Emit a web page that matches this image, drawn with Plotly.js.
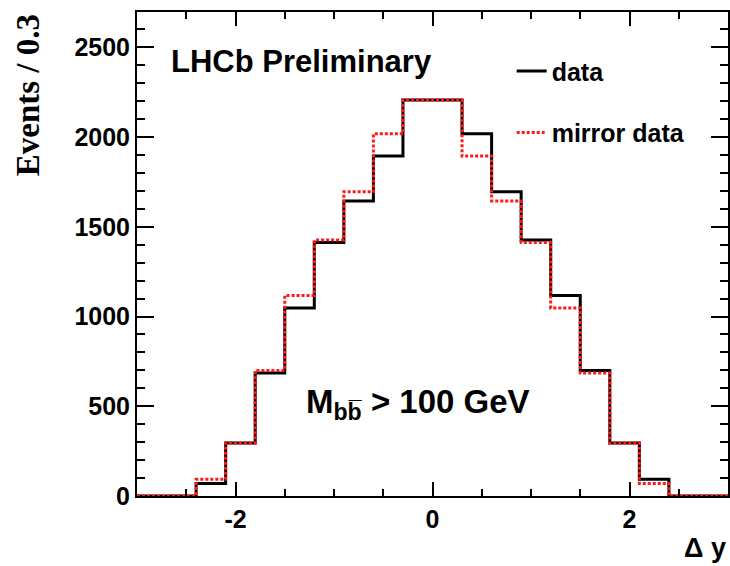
<!DOCTYPE html>
<html>
<head>
<meta charset="utf-8">
<script src="https://cdn.plot.ly/plotly-3.0.1.min.js"></script>
<style>html,body{margin:0;padding:0;background:#fff;}#chart{width:730px;height:566px;}</style>
</head>
<body>
<div id="chart"></div>
<script>
// Bin edges of the Δy histogram (bin width 0.3)
const binEdges = [-3.0, -2.7, -2.4, -2.1, -1.8, -1.5, -1.2, -0.9, -0.6, -0.3, 0.0,
                  0.3, 0.6, 0.9, 1.2, 1.5, 1.8, 2.1, 2.4, 2.7, 3.0];
// Events per bin, data
const dataCounts = [0, 0, 70, 296, 685, 1048, 1413, 1644, 1894, 2206,
                    2206, 2018, 1696, 1426, 1117, 700, 296, 93, 0, 0];
// Events per bin, mirrored data
const mirrorCounts = [0, 0, 93, 296, 700, 1117, 1426, 1696, 2018, 2206,
                      2206, 1894, 1644, 1413, 1048, 685, 296, 70, 0, 0];
const xTickVals = [-2, 0, 2];
const yTickVals = [0, 500, 1000, 1500, 2000, 2500];

function stepY(counts) { return counts.concat([counts[counts.length - 1]]); }

const traces = [
  {
    type: 'scatter', mode: 'lines', name: 'data', legendgroup: 'a',
    x: binEdges, y: stepY(dataCounts),
    line: {shape: 'hv', color: '#000000', width: 3}
  },
  {
    type: 'scatter', mode: 'lines', name: 'mirror data', legendgroup: 'b',
    x: binEdges, y: stepY(mirrorCounts),
    line: {shape: 'hv', color: '#ff1a1a', width: 3, dash: '3px,2px'}
  }
];

const tickFont = {family: 'Liberation Sans, Arial, sans-serif', size: 25, color: '#000', weight: 'bold'};

const layout = {
  width: 730, height: 566,
  margin: {l: 137, r: 2, t: 12, b: 70},
  paper_bgcolor: '#fff', plot_bgcolor: '#fff',
  showlegend: true,
  legend: {
    x: 0.634, y: 0.925, xanchor: 'left', yanchor: 'top',
    bgcolor: 'rgba(0,0,0,0)', borderwidth: 0,
    traceorder: 'grouped', tracegroupgap: 26,
    font: {family: 'Liberation Sans, Arial, sans-serif', size: 25, color: '#000', weight: 'bold'}
  },
  xaxis: {
    range: [-3, 3], tickvals: xTickVals, ticktext: xTickVals.map(String),
    ticks: 'inside', ticklen: 14, tickwidth: 2, tickcolor: '#000',
    minor: {dtick: 0.5, ticks: 'inside', ticklen: 7, tickwidth: 2, tickcolor: '#000'},
    showline: true, linecolor: '#000', linewidth: 2, mirror: 'allticks',
    showgrid: false, zeroline: false, tickfont: tickFont
  },
  yaxis: {
    range: [0, 2697], tickvals: yTickVals, ticktext: yTickVals.map(String),
    ticks: 'inside', ticklen: 17, tickwidth: 2, tickcolor: '#000',
    minor: {dtick: 100, ticks: 'inside', ticklen: 8, tickwidth: 2, tickcolor: '#000'},
    showline: true, linecolor: '#000', linewidth: 2, mirror: 'allticks',
    showgrid: false, zeroline: false, tickfont: tickFont
  },
  annotations: [
    {
      xref: 'paper', yref: 'paper', x: 0.054, y: 0.898, xanchor: 'left', yanchor: 'middle',
      text: 'LHCb Preliminary', showarrow: false,
      font: {family: 'Liberation Sans, Arial, sans-serif', size: 31, color: '#000', weight: 'bold'}
    },
    {
      xref: 'paper', yref: 'paper', x: 0.475, y: 0.19, xanchor: 'center', yanchor: 'middle',
      text: 'M<sub>bb\u0305</sub> &gt; 100 GeV', showarrow: false,
      font: {family: 'Liberation Sans, Arial, sans-serif', size: 33, color: '#000', weight: 'bold'}
    },
    {
      xref: 'paper', yref: 'paper', x: 1.0, y: -0.108, xanchor: 'right', yanchor: 'middle',
      text: '\u0394 y', showarrow: false,
      font: {family: 'Liberation Sans, Arial, sans-serif', size: 27, color: '#000', weight: 'bold'}
    },
    {
      xref: 'paper', yref: 'paper', x: -0.184, y: 1.0, xanchor: 'center', yanchor: 'top',
      text: 'Events / 0.3', showarrow: false, textangle: -90,
      font: {family: 'Liberation Serif, Times New Roman, serif', size: 33, color: '#000', weight: 'bold'}
    }
  ]
};

Plotly.newPlot('chart', traces, layout, {displayModeBar: false, staticPlot: true});
</script>
</body>
</html>
